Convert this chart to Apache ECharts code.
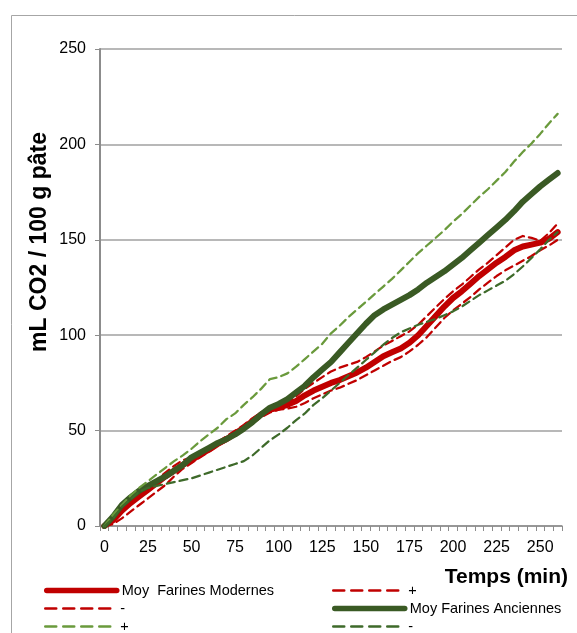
<!DOCTYPE html>
<html>
<head>
<meta charset="utf-8">
<script src="https://cdn.jsdelivr.net/npm/echarts@6/dist/echarts.min.js"></script>
<style>
html, body { margin: 0; padding: 0; background: #fff; }
#main { width: 577px; height: 633px; }
</style>
</head>
<body>
<div id="main"></div>
<script>
// temps en minutes (une mesure toutes les 5 min)
var temps = [0,5,10,15,20,25,30,35,40,45,50,55,60,65,70,75,80,85,90,95,100,105,110,115,120,125,
  130,135,140,145,150,155,160,165,170,175,180,185,190,195,200,205,210,215,220,225,230,235,240,245,250,255,260];

// farines modernes
var moyModernes = [0,3,8,12,15.5,19,22.5,26,29,32,34.5,37.5,40,43,45.5,48.5,51.5,55,58.5,61,62,63.5,65.5,68.5,71,73,
  75,76.5,78.5,80.5,83,86,89,91,93,96,100,105,110,115,119.5,123,127,131,134.5,138,141,144.5,146.5,147.5,148.5,150.5,154];
var modernesPlus = [0,4,9,13,17,20.5,24,28,31.5,34.5,36,38,41,44,47,50,53,56.5,59.5,61,62.5,64.5,68,72,75,78,
  81,83,84.5,86,88.5,91.5,94.5,97,99.5,102,105.5,110,114.5,119,123,126.5,130.5,134.5,138,142,146,150,152,151,149.5,153.5,158.5];
var modernesMoins = [0,1,4,7.5,11,14.5,18,21.5,26,30,33,36,39,42,44.5,47.5,50.5,54,57,59.5,61,61.5,62.5,64.5,67,69,
  71,72.5,74.5,76.5,79,81.5,84,86.5,88.5,91.5,95,99,104,109,113,116.5,120,124,127.5,131,134,136.5,139,141.5,144.5,147,150];

// farines anciennes
var moyAnciennes = [0,5,11,15,18.5,21,23.5,26,29,32,36,38.5,41,43.5,45.5,48,51,54.5,58.5,62,64,66.5,70,73.5,78,82,
  86,91,96,101,106,110.5,113.5,116,118.5,121,124,127.5,130.5,133.5,137,140.5,144.5,148.5,152.5,156.5,160.5,165,170,174,178,181.5,185];
var anciennesPlus = [0,6,11,16,20,23.5,27,30.5,34,37,40.5,44.5,48,51.5,56,59,63.5,67.5,72,77,78,80,83.5,87.5,91.5,95.5,
  101,105,109.5,113.5,117.5,121.5,125.5,129.5,134,138.5,143,147,151,155,159.5,163.5,168,172.5,176.5,181,185.5,191,196,200.5,205.5,211,216];
var anciennesMoins = [0,4,10,14,18,20,21,22,23,24,25,26.5,28,29.5,31,32.5,34,37,41,45,48,51.5,55.5,59,63.5,67,
  71,75,79,83,87,91,95,98.5,101.5,103.5,105.5,107,108.5,110.5,112.5,115,118,121,123.5,126,128.5,132,136,140.5,145,150,154];

var legendLabels = {
  'Moy  Farines Modernes': 'Moy  Farines Modernes',
  'Modernes +': '+',
  'Modernes -': '-',
  'Moy Farines Anciennes': 'Moy Farines Anciennes',
  'Anciennes +': '+',
  'Anciennes -': '-'
};

var police = 'Liberation Sans';
var rouge = '#C00000';
var vertFonce = '#3A5A24';
var vertClair = '#6A9A3C';
var vertMoins = '#3E6A2A';

function serie(name, data, color, width, dashed) {
  return {
    name: name,
    type: 'line',
    data: data,
    symbol: 'none',
    lineStyle: { color: color, width: width, type: dashed ? [8, 5] : 'solid', cap: 'round', join: 'round' },
    itemStyle: { color: color }
  };
}

function legende(name, left, top, dashed) {
  return {
    data: [name],
    left: left,
    top: top,
    padding: 0,
    itemWidth: 70,
    itemHeight: 12,
    itemStyle: { opacity: 0 },
    lineStyle: dashed ? { width: 2.5, type: [11, 7] } : { width: 5.5, cap: 'round' },
    formatter: function (n) { return legendLabels[n]; },
    textStyle: { fontFamily: police, fontSize: 14.5, color: '#000' }
  };
}

var myChart = echarts.init(document.getElementById('main'));
myChart.setOption({
  animation: false,
  backgroundColor: '#fff',
  grid: { left: 100, right: 15, top: 49, bottom: 107 },
  legend: [
    legende('Moy  Farines Modernes', 44, 583, false),
    legende('Modernes +', 332, 583, true),
    legende('Modernes -', 44, 601, true),
    legende('Moy Farines Anciennes', 332, 601, false),
    legende('Anciennes +', 44, 619, true),
    legende('Anciennes -', 332, 619, true)
  ],
  graphic: [
    {
      type: 'rect',
      shape: { x: 11.5, y: 15.5, width: 700, height: 700 },
      style: { fill: 'none', stroke: '#A6A6A6', lineWidth: 1 },
      silent: true
    },
    {
      type: 'text',
      x: 40, y: 242,
      rotation: Math.PI / 2,
      style: { text: 'mL CO2 / 100 g pâte', font: 'bold 23px "Liberation Sans"', fill: '#000',
               textAlign: 'center', textVerticalAlign: 'middle' }
    },
    {
      type: 'text',
      x: 568, y: 577,
      style: { text: 'Temps (min)', font: 'bold 21px "Liberation Sans"', fill: '#000',
               textAlign: 'right', textVerticalAlign: 'middle' }
    }
  ],
  xAxis: {
    type: 'category',
    data: temps,
    boundaryGap: true,
    axisLine: { lineStyle: { color: '#8C8C8C', width: 1.5 } },
    axisTick: { show: true, interval: 0, length: 5, lineStyle: { color: '#8C8C8C' } },
    axisLabel: { interval: 4, margin: 14, fontFamily: police, fontSize: 16, color: '#000' },
    splitLine: { show: false }
  },
  yAxis: {
    type: 'value',
    min: 0,
    max: 250,
    interval: 50,
    axisLine: { show: true, lineStyle: { color: '#8C8C8C', width: 2 } },
    axisTick: { show: true, length: 5, lineStyle: { color: '#8C8C8C' } },
    axisLabel: { margin: 14, fontFamily: police, fontSize: 16, color: '#000' },
    splitLine: { lineStyle: { color: '#A0A0A0', width: 1.5 } }
  },
  series: [
    serie('Moy  Farines Modernes', moyModernes, rouge, 6, false),
    serie('Modernes +', modernesPlus, rouge, 2.25, true),
    serie('Modernes -', modernesMoins, rouge, 2.25, true),
    serie('Moy Farines Anciennes', moyAnciennes, vertFonce, 6, false),
    serie('Anciennes +', anciennesPlus, vertClair, 2.25, true),
    serie('Anciennes -', anciennesMoins, vertMoins, 2.25, true)
  ]
});
</script>
</body>
</html>
